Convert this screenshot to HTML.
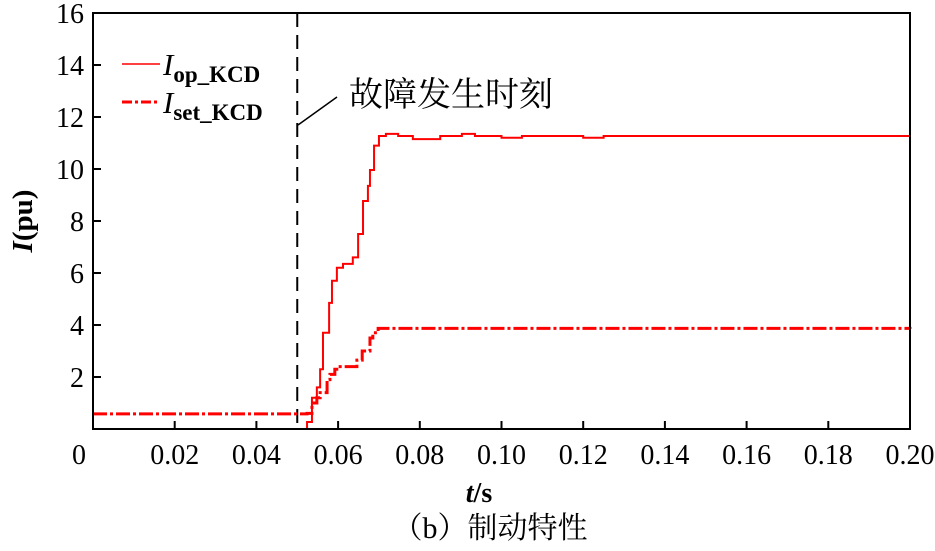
<!DOCTYPE html>
<html><head><meta charset="utf-8"><style>
body{margin:0;background:#fff;}
svg text{font-family:"Liberation Serif","Noto Serif CJK SC",serif;fill:#000;}
</style></head><body>
<svg width="935" height="546" viewBox="0 0 935 546">
<g id="grid"></g>
<g id="series"></g>
<rect x="93" y="13" width="817" height="416" fill="none" stroke="#000" stroke-width="2"/>
<g id="axes"></g>
<line x1="298" y1="125" x2="337" y2="97" stroke="#000" stroke-width="1.5"/>
<text x="349" y="106" font-size="34" font-family="Noto Serif CJK SC">故障发生时刻</text>
<g>
<line x1="122" y1="64" x2="160" y2="64" stroke="#f00" stroke-width="1.5"/>
<text x="163" y="75" font-size="31" font-style="italic">I<tspan font-size="23" font-style="normal" font-weight="bold" dy="7">op_KCD</tspan></text>
<line x1="122" y1="102" x2="160" y2="102" stroke="#f00" stroke-width="3" stroke-dasharray="10,3,3,3"/>
<text x="163" y="113" font-size="31" font-style="italic">I<tspan font-size="23" font-style="normal" font-weight="bold" dy="7">set_KCD</tspan></text>
</g>
<text x="479" y="502" font-size="28" text-anchor="middle" font-weight="bold"><tspan font-style="italic">t</tspan>/s</text>
<text transform="translate(32,221) rotate(-90)" font-size="29" text-anchor="middle" font-weight="bold"><tspan font-style="italic">I</tspan>(pu)</text>
<text x="490" y="538" font-size="30" text-anchor="middle">（b）制动特性</text>
</svg>
<script>
const xTicks=[0,0.02,0.04,0.06,0.08,0.10,0.12,0.14,0.16,0.18,0.20];
const xTickLabels=["0","0.02","0.04","0.06","0.08","0.10","0.12","0.14","0.16","0.18","0.20"];
const yTicks=[2,4,6,8,10,12,14,16];
const yTickLabels=["2","4","6","8","10","12","14","16"];
const faultTime=0.05;
const opT=[0,0.0524,0.0536,0.0548,0.0556,0.0563,0.0578,0.0585,0.0597,0.0612,0.0636,0.0649,0.0661,0.0673,0.0678,0.0688,0.0700,0.0717,0.0747,0.0783,0.0850,0.0903,0.0935,0.100,0.105,0.120,0.125,0.20];
const opV=[0,0.27,1.2,1.6,2.3,3.7,4.85,5.7,6.2,6.35,6.6,7.5,8.77,9.35,9.96,10.9,11.27,11.35,11.27,11.15,11.27,11.35,11.27,11.2,11.27,11.2,11.27,11.27];
const setT=[0,0.0524,0.0536,0.0548,0.0556,0.0573,0.058,0.0592,0.0605,0.0646,0.0659,0.0678,0.0685,0.0698,0.20];
const setV=[0.58,0.6,1.0,1.2,1.4,1.9,2.1,2.3,2.4,2.65,3.0,3.5,3.7,3.87,3.85];
const NS="http://www.w3.org/2000/svg";
const X=t=>93+t/0.2*817, Y=v=>429-v*26;
const axes=document.getElementById('axes'), ser=document.getElementById('series');
function mk(tag,attrs,parent){const e=document.createElementNS(NS,tag);for(const k in attrs)e.setAttribute(k,attrs[k]);parent.appendChild(e);return e;}
xTicks.forEach((t,i)=>{
 const l=mk('line',{x1:X(t),x2:X(t),y1:429,y2:421,stroke:'#000','stroke-width':2},axes);
 
 
 const tx=mk('text',{x:X(t)+(i==0?-21:0),y:464,'font-size':28,'text-anchor':i==0?'start':'middle'},axes);
 tx.textContent=xTickLabels[i];
 
 
});
yTicks.forEach((v,i)=>{
 const l=mk('line',{x1:93,x2:101,y1:Y(v),y2:Y(v),stroke:'#000','stroke-width':2},axes);
 
 
 const tx=mk('text',{x:84,y:Y(v)+10,'font-size':28,'text-anchor':'end'},axes);
 tx.textContent=yTickLabels[i];
 
 
});
function stepPath(T,V){let d='M'+X(T[0])+','+Y(V[0]);for(let i=1;i<T.length;i++){d+=' H'+X(T[i])+' V'+Y(V[i]);}return d;}
const fl=mk('line',{x1:X(faultTime),x2:X(faultTime),y1:13,y2:429,stroke:'#000','stroke-width':2,'stroke-dasharray':'14,8'},ser);


const ps=mk('path',{d:stepPath(setT,setV),fill:'none',stroke:'#f00','stroke-width':3,'stroke-dasharray':'14,3,3,3'},ser);


const po=mk('path',{d:stepPath(opT,opV),fill:'none',stroke:'#f00','stroke-width':2},ser);


</script>
</body></html>
